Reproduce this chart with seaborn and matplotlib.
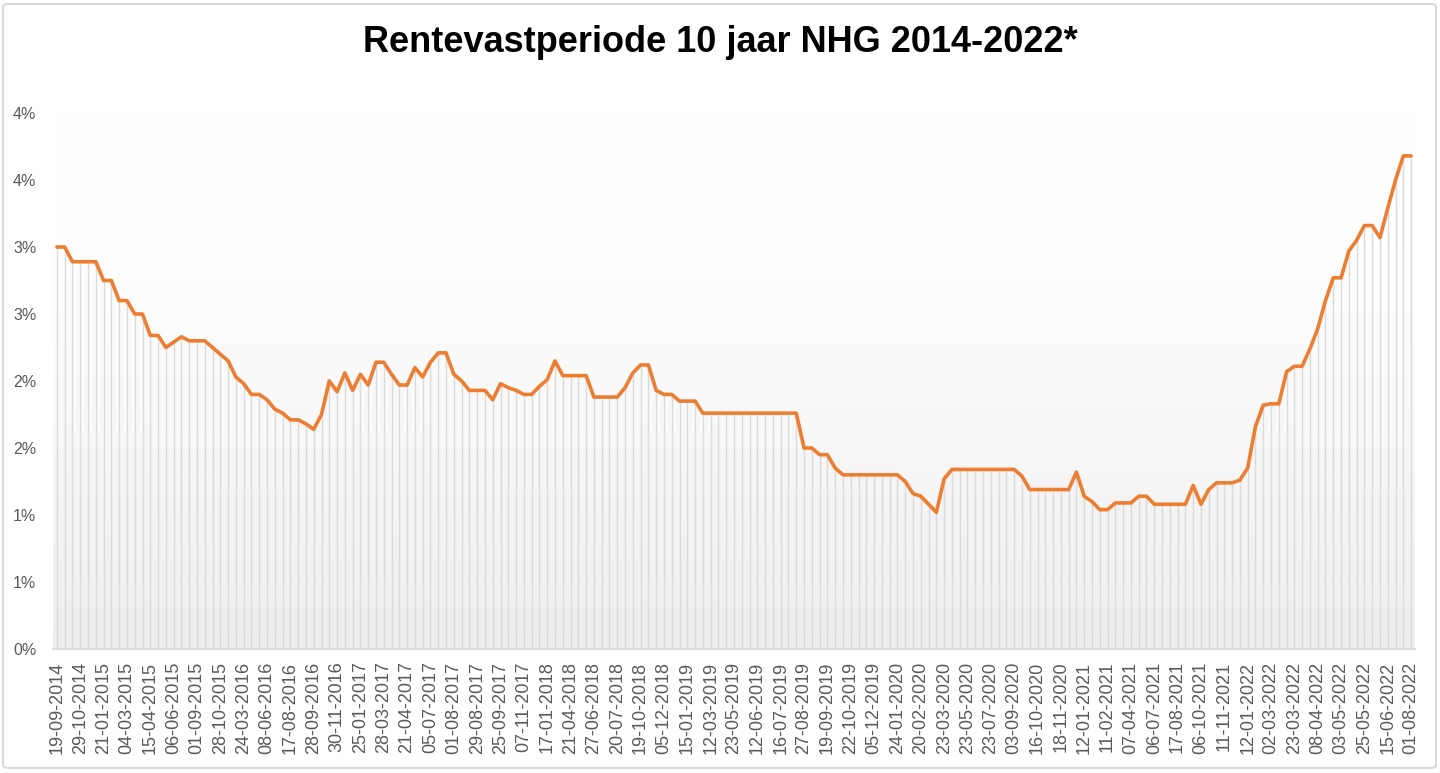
import numpy as np
import matplotlib
matplotlib.use("Agg")
import matplotlib.pyplot as plt
import seaborn as sns
from matplotlib.colors import LinearSegmentedColormap
from matplotlib.patches import FancyBboxPatch

# (1) - Gegevens
titel = "Rentevastperiode 10 jaar NHG 2014-2022*"

rente = [3.00, 3.00, 2.89, 2.89, 2.89, 2.89, 2.75, 2.75, 2.60, 2.60,
         2.50, 2.50, 2.34, 2.34, 2.25, 2.29, 2.33, 2.30, 2.30, 2.30,
         2.25, 2.20, 2.15, 2.03, 1.98, 1.90, 1.90, 1.86, 1.79, 1.76,
         1.71, 1.71, 1.68, 1.64, 1.75, 2.00, 1.92, 2.06, 1.93, 2.05,
         1.97, 2.14, 2.14, 2.05, 1.97, 1.97, 2.10, 2.03, 2.14, 2.21,
         2.21, 2.05, 2.00, 1.93, 1.93, 1.93, 1.86, 1.98, 1.95, 1.93,
         1.90, 1.90, 1.96, 2.01, 2.15, 2.04, 2.04, 2.04, 2.04, 1.88,
         1.88, 1.88, 1.88, 1.95, 2.06, 2.12, 2.12, 1.93, 1.90, 1.90,
         1.85, 1.85, 1.85, 1.76, 1.76, 1.76, 1.76, 1.76, 1.76, 1.76,
         1.76, 1.76, 1.76, 1.76, 1.76, 1.76, 1.50, 1.50, 1.45, 1.45,
         1.35, 1.30, 1.30, 1.30, 1.30, 1.30, 1.30, 1.30, 1.30, 1.25,
         1.16, 1.14, 1.08, 1.02, 1.27, 1.34, 1.34, 1.34, 1.34, 1.34,
         1.34, 1.34, 1.34, 1.34, 1.29, 1.19, 1.19, 1.19, 1.19, 1.19,
         1.19, 1.32, 1.14, 1.10, 1.04, 1.04, 1.09, 1.09, 1.09, 1.14,
         1.14, 1.08, 1.08, 1.08, 1.08, 1.08, 1.22, 1.08, 1.19, 1.24,
         1.24, 1.24, 1.26, 1.35, 1.66, 1.82, 1.83, 1.83, 2.07, 2.11,
         2.11, 2.24, 2.39, 2.60, 2.77, 2.77, 2.97, 3.05, 3.16, 3.16,
         3.07, 3.29, 3.50, 3.68, 3.68]

# elke derde datum staat als label op de as
datums = ["19-09-2014", "29-10-2014", "21-01-2015", "04-03-2015", "15-04-2015",
          "06-06-2015", "01-09-2015", "28-10-2015", "24-03-2016", "08-06-2016",
          "17-08-2016", "28-09-2016", "30-11-2016", "25-01-2017", "28-03-2017",
          "21-04-2017", "05-07-2017", "01-08-2017", "29-08-2017", "25-09-2017",
          "07-11-2017", "17-01-2018", "21-04-2018", "27-06-2018", "20-07-2018",
          "19-10-2018", "05-12-2018", "15-01-2019", "12-03-2019", "23-05-2019",
          "12-06-2019", "16-07-2019", "27-08-2019", "19-09-2019", "22-10-2019",
          "05-12-2019", "24-01-2020", "20-02-2020", "23-03-2020", "23-05-2020",
          "23-07-2020", "03-09-2020", "16-10-2020", "18-11-2020", "12-01-2021",
          "11-02-2021", "07-04-2021", "06-07-2021", "17-08-2021", "06-10-2021",
          "11-11-2021", "12-01-2022", "02-03-2022", "23-03-2022", "08-04-2022",
          "03-05-2022", "25-05-2022", "15-06-2022", "01-08-2022"]

y_ticks = [0, 0.5, 1.0, 1.5, 2.0, 2.5, 3.0, 3.5, 4.0]
y_labels = ["0%", "1%", "1%", "2%", "2%", "3%", "3%", "4%", "4%"]

# (2) - Opmaak
sns.set_theme(style="white")
plt.rcParams['font.family'] = ['Liberation Sans', 'DejaVu Sans']

W, H = 1440, 773
fig = plt.figure(figsize=(W / 100, H / 100), dpi=100)
ax = fig.add_axes([53 / W, 1 - 649 / H, (1415 - 53) / W, (649 - 113) / H])

pos = np.arange(len(rente))
ax.set_xlim(-0.5, len(rente) - 0.5)
ax.set_ylim(0, 4)

# achtergrond met zacht verloop van wit (boven) naar lichtgrijs (onder)
cmap = LinearSegmentedColormap.from_list(
    "verloop", [(0, "#eeeeee"), (0.45, "#f9f9f9"), (0.75, "#fefefe"), (1, "#ffffff")])
ax.imshow(np.linspace(0, 1, 256)[:, None], extent=(-0.5, len(rente) - 0.5, 0, 4),
          origin="lower", aspect="auto", cmap=cmap, zorder=0)

# verticale lijntjes onder de lijn
ax.vlines(pos, 0, rente, color="#dadada", linewidth=1.0, zorder=1)

sns.lineplot(x=pos, y=rente, color="#ED7D31", linewidth=2.6, ax=ax, zorder=3,
             solid_joinstyle="round", solid_capstyle="round")

ax.set_xticks(pos[::3])
ax.set_xticklabels(datums, rotation=90, fontsize=13, color="#595959")
ax.set_yticks(y_ticks)
ax.set_yticklabels(y_labels, fontsize=11.5, color="#595959")
ax.tick_params(axis="x", length=0, pad=9)
ax.tick_params(axis="y", length=0, pad=12)
ax.set_xlabel("")
ax.set_ylabel("")
ax.grid(False)

for s in ["top", "right", "left"]:
    ax.spines[s].set_visible(False)
ax.spines["bottom"].set_color("#d9d9d9")
ax.spines["bottom"].set_linewidth(1.2)
ax.spines["bottom"].set_zorder(4)

fig.text(0.5, 1 - 42 / H, titel, ha="center", va="center",
         fontsize=26, fontweight="bold", color="black")

# grijze rand om de hele grafiek
rand = FancyBboxPatch((3 / W, 5 / H), 1 - 7 / W, 1 - 9 / H,
                      boxstyle="round,pad=0,rounding_size=0.004",
                      transform=fig.transFigure, fill=False,
                      edgecolor="#d9d9d9", linewidth=1.5)
fig.add_artist(rand)

# (3) - Opslaan
fig.savefig("out.png", dpi=100)
